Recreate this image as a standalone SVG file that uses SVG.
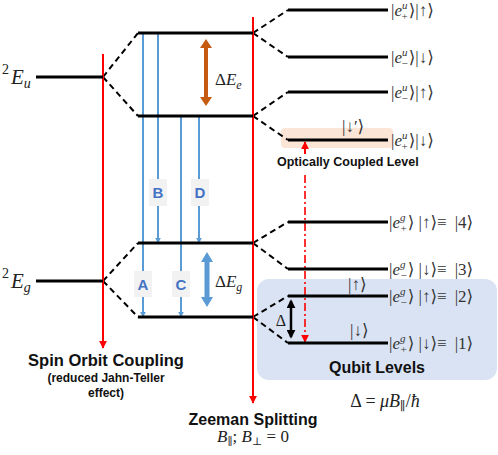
<svg xmlns="http://www.w3.org/2000/svg" width="498" height="455" viewBox="0 0 498 455">
<defs>
<style>
.lvl{stroke:#000;stroke-width:3;fill:none}
.dash{stroke:#000;stroke-width:2;stroke-dasharray:6,4;fill:none}
.red{stroke:#ff0000;stroke-width:2;fill:none}
.blue{stroke:#5b9bd5;stroke-width:2;fill:none}
.m{font-family:"Liberation Serif","DejaVu Serif",serif;fill:#222}
.k{font-family:"Liberation Serif","DejaVu Serif",serif;font-size:17px;fill:#333}
.s{font-size:11px}
.i{font-style:italic}
.b{font-family:"Liberation Sans",Arial,sans-serif;font-weight:bold;fill:#111}
.lab{font-family:"Liberation Sans",Arial,sans-serif;font-weight:bold;font-size:15px;fill:#4472c4;text-anchor:middle}
.lbox{fill:#f2f2f2}
</style>
<marker id="ab" viewBox="0 0 10 10" refX="9" refY="5" markerWidth="6" markerHeight="6" orient="auto" markerUnits="userSpaceOnUse"><path d="M0,0L10,5L0,10z" fill="#5b9bd5"/></marker>
<marker id="ar" viewBox="0 0 10 10" refX="9" refY="5" markerWidth="8" markerHeight="8" orient="auto" markerUnits="userSpaceOnUse"><path d="M0,0L10,5L0,10z" fill="#ff0000"/></marker>
<marker id="ak" viewBox="0 0 10 10" refX="8" refY="5" markerWidth="9" markerHeight="9" orient="auto-start-reverse" markerUnits="userSpaceOnUse"><path d="M0,0L10,5L0,10z" fill="#000"/></marker>
</defs>
<rect width="498" height="455" fill="#fff"/>

<g id="qubit-box"><rect x="257" y="279" width="240" height="101" rx="12" fill="#dae3f3"/></g>
<g id="optical-box"><rect x="281" y="128" width="112" height="20" rx="4" fill="#fbe5d6"/></g>

<g id="connectors">
<path class="dash" d="M103,77L138,33M103,77L138,116M103,281L138,243M103,281L138,317"/>
<path class="dash" d="M253,33L288,10M253,33L288,57M253,116L288,92M253,116L288,140M253,243L288,222M253,243L288,269M253,317L288,296M253,317L288,343"/>
<line class="red" x1="103" y1="54" x2="103" y2="348" marker-end="url(#ar)"/>
<line class="red" x1="253" y1="17" x2="253" y2="403" marker-end="url(#ar)"/>
<line class="blue" x1="143" y1="33" x2="143" y2="317" marker-end="url(#ab)"/>
<line class="blue" x1="158" y1="33" x2="158" y2="243" marker-end="url(#ab)"/>
<line class="blue" x1="181" y1="116" x2="181" y2="317" marker-end="url(#ab)"/>
<line class="blue" x1="199" y1="116" x2="199" y2="243" marker-end="url(#ab)"/>
<line x1="305" y1="175" x2="305" y2="342" stroke="#ff0000" stroke-width="1.6" stroke-dasharray="8,3,2,3" marker-end="url(#ar)"/>
<line x1="305" y1="154" x2="305" y2="142" stroke="#ff0000" stroke-width="2" marker-end="url(#ar)"/>
<line x1="291" y1="301" x2="291" y2="337" stroke="#000" stroke-width="2.5" marker-start="url(#ak)" marker-end="url(#ak)"/>
<path d="M206,39L212,48L208,48L208,97L212,97L206,106L200,97L204,97L204,48L200,48z" fill="#c55a11"/>
<path d="M207,252L213,262L209.5,262L209.5,297L213,297L207,307L201,297L204.5,297L204.5,262L201,262z" fill="#5b9bd5"/>
</g>

<g id="label-A"><rect class="lbox" x="134" y="271" width="18" height="26"/><text class="lab" x="143" y="290">A</text></g>
<g id="label-B"><rect class="lbox" x="149" y="179" width="18" height="27"/><text class="lab" x="158" y="198">B</text></g>
<g id="label-C"><rect class="lbox" x="172" y="271" width="18" height="26"/><text class="lab" x="181" y="290">C</text></g>
<g id="label-D"><rect class="lbox" x="191" y="179" width="18" height="27"/><text class="lab" x="200" y="198">D</text></g>

<g id="Eu"><line class="lvl" x1="36" y1="77" x2="103" y2="77"/><text class="m" x="2" y="84" font-size="21"><tspan font-size="14" dy="-10">2</tspan><tspan class="i" dy="10" dx="2">E</tspan><tspan class="i" font-size="14" dy="4">u</tspan></text></g>
<g id="Eg"><line class="lvl" x1="36" y1="281" x2="103" y2="281"/><text class="m" x="2" y="288" font-size="21"><tspan font-size="14" dy="-10">2</tspan><tspan class="i" dy="10" dx="2">E</tspan><tspan class="i" font-size="14" dy="4">g</tspan></text></g>

<g id="eu-upper"><line class="lvl" x1="138" y1="33" x2="253" y2="33"/></g>
<g id="eu-lower"><line class="lvl" x1="138" y1="116" x2="253" y2="116"/></g>
<g id="eg-upper"><line class="lvl" x1="138" y1="243" x2="253" y2="243"/></g>
<g id="eg-lower"><line class="lvl" x1="138" y1="317" x2="253" y2="317"/></g>

<g id="dEe"><text class="m" x="215" y="85" font-size="17">Δ<tspan class="i">E</tspan><tspan class="i" font-size="12" dy="4">e</tspan></text></g>
<g id="dEg"><text class="m" x="215" y="287" font-size="17">Δ<tspan class="i">E</tspan><tspan class="i" font-size="12" dy="4">g</tspan></text></g>

<g id="lvl1"><line class="lvl" x1="288" y1="10" x2="388" y2="10"/><text class="k" x="391" y="16">|<tspan class="i">e</tspan><tspan class="i s" dy="-7">u</tspan><tspan class="s" dx="-6" dy="11">+</tspan><tspan dx="1" dy="-4">⟩|↑⟩</tspan></text></g>
<g id="lvl2"><line class="lvl" x1="288" y1="57" x2="388" y2="57"/><text class="k" x="391" y="63">|<tspan class="i">e</tspan><tspan class="i s" dy="-7">u</tspan><tspan class="s" dx="-6" dy="11">−</tspan><tspan dx="1" dy="-4">⟩|↓⟩</tspan></text></g>
<g id="lvl3"><line class="lvl" x1="288" y1="92" x2="388" y2="92"/><text class="k" x="391" y="98">|<tspan class="i">e</tspan><tspan class="i s" dy="-7">u</tspan><tspan class="s" dx="-6" dy="11">−</tspan><tspan dx="1" dy="-4">⟩|↑⟩</tspan></text></g>
<g id="lvl4"><line class="lvl" x1="288" y1="140" x2="388" y2="140"/><text class="k" x="391" y="146">|<tspan class="i">e</tspan><tspan class="i s" dy="-7">u</tspan><tspan class="s" dx="-6" dy="11">+</tspan><tspan dx="1" dy="-4">⟩|↓⟩</tspan></text><text class="k" x="342" y="132">|↓′⟩</text></g>
<g id="optical-label"><text class="b" x="277" y="166" font-size="12.5">Optically Coupled Level</text></g>

<g id="lvl5"><line class="lvl" x1="288" y1="222" x2="388" y2="222"/><text class="k" x="389" y="228">|<tspan class="i">e</tspan><tspan class="i s" dy="-7">g</tspan><tspan class="s" dx="-5" dy="11">+</tspan><tspan dx="1" dy="-4">⟩ |↑⟩≡</tspan><tspan dx="8">|4⟩</tspan></text></g>
<g id="lvl6"><line class="lvl" x1="288" y1="269" x2="388" y2="269"/><text class="k" x="389" y="275">|<tspan class="i">e</tspan><tspan class="i s" dy="-7">g</tspan><tspan class="s" dx="-5" dy="11">−</tspan><tspan dx="1" dy="-4">⟩ |↓⟩≡</tspan><tspan dx="8">|3⟩</tspan></text></g>
<g id="lvl7"><line class="lvl" x1="288" y1="296" x2="388" y2="296"/><text class="k" x="389" y="302">|<tspan class="i">e</tspan><tspan class="i s" dy="-7">g</tspan><tspan class="s" dx="-5" dy="11">−</tspan><tspan dx="1" dy="-4">⟩ |↑⟩≡</tspan><tspan dx="8">|2⟩</tspan></text><text class="k" x="348" y="290">|↑⟩</text></g>
<g id="lvl8"><line class="lvl" x1="288" y1="343" x2="388" y2="343"/><text class="k" x="389" y="349">|<tspan class="i">e</tspan><tspan class="i s" dy="-7">g</tspan><tspan class="s" dx="-5" dy="11">+</tspan><tspan dx="1" dy="-4">⟩ |↓⟩≡</tspan><tspan dx="8">|1⟩</tspan></text><text class="k" x="350" y="336">|↓⟩</text></g>
<g id="delta-label"><text class="m" x="281" y="326" font-size="16" text-anchor="middle">Δ</text></g>

<g id="qubit-label"><text class="b" x="377" y="373" font-size="16" text-anchor="middle">Qubit Levels</text></g>
<g id="spin-orbit"><text class="b" x="106" y="366" font-size="16.5" text-anchor="middle">Spin Orbit Coupling</text><text class="b" x="106" y="382" font-size="12" text-anchor="middle">(reduced Jahn-Teller</text><text class="b" x="106" y="397" font-size="12" text-anchor="middle">effect)</text></g>
<g id="zeeman"><text class="b" x="253" y="425" font-size="16" text-anchor="middle">Zeeman Splitting</text><text class="m" x="253" y="442" font-size="17" text-anchor="middle"><tspan class="i">B</tspan><tspan font-size="11" dy="3">∥</tspan><tspan dy="-3">; </tspan><tspan class="i">B</tspan><tspan font-size="11" dy="3">⊥</tspan><tspan dy="-3"> = 0</tspan></text></g>
<g id="delta-eq"><text class="m" x="385" y="407" font-size="18" text-anchor="middle">Δ = <tspan class="i">μB</tspan><tspan font-size="12" dy="3">∥</tspan><tspan dy="-3">/</tspan><tspan class="i">ħ</tspan></text></g>
</svg>
